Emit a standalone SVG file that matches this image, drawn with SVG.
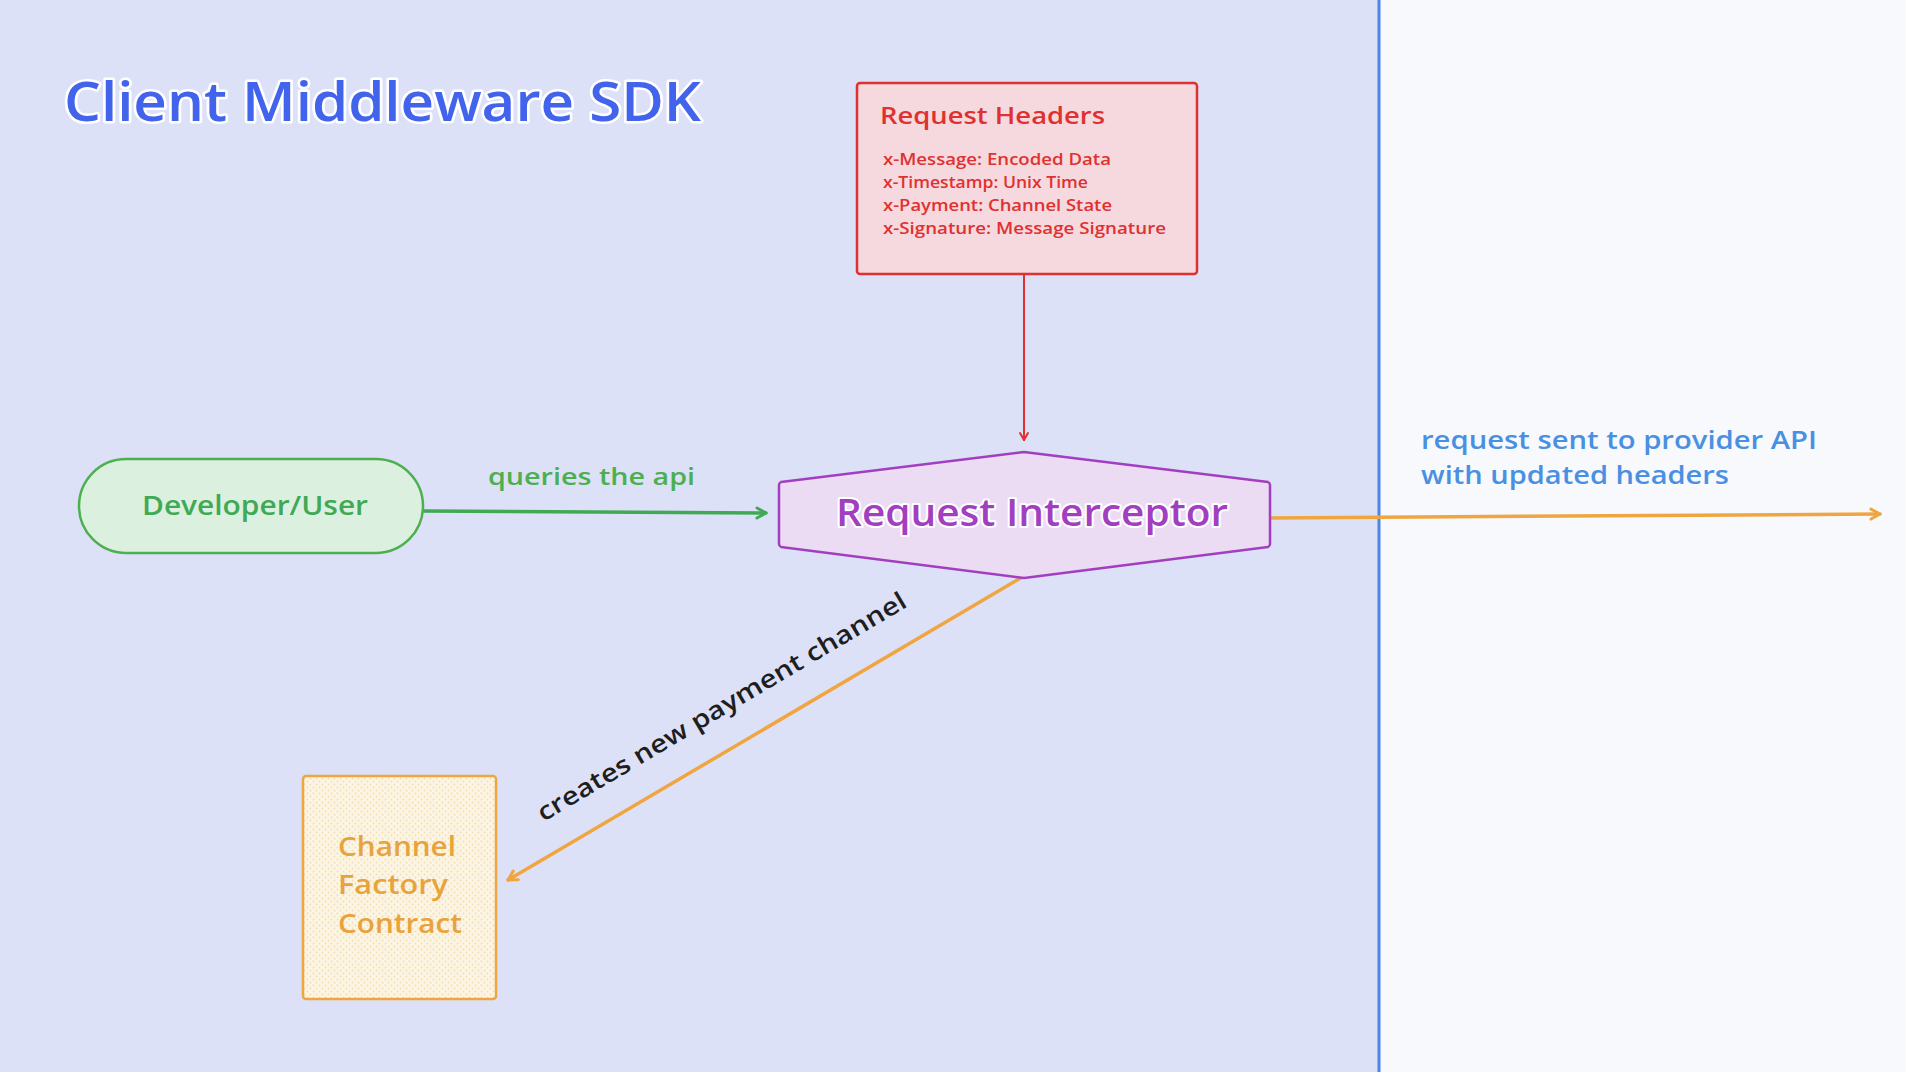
<svg xmlns="http://www.w3.org/2000/svg" width="1906" height="1072" viewBox="0 0 1906 1072">
<defs>
<style>
.hand{font-family:"Open Sans","Noto Sans","Liberation Sans",sans-serif;font-weight:600}
.halo{paint-order:stroke;stroke:#ffffff;stroke-linejoin:round}
</style>
<marker id="arrG" markerWidth="14" markerHeight="14" refX="11" refY="7" orient="auto" markerUnits="userSpaceOnUse"><path d="M2,2 L11,7 L2,12" fill="none" stroke="#40a955" stroke-width="3" stroke-linecap="round" stroke-linejoin="round"/></marker>
<marker id="arrO" markerWidth="14" markerHeight="14" refX="11" refY="7" orient="auto" markerUnits="userSpaceOnUse"><path d="M2,2 L11,7 L2,12" fill="none" stroke="#f0a640" stroke-width="3" stroke-linecap="round" stroke-linejoin="round"/></marker>
<marker id="arrR" markerWidth="12" markerHeight="12" refX="9" refY="6" orient="auto" markerUnits="userSpaceOnUse"><path d="M2,2 L9,6 L2,10" fill="none" stroke="#e03131" stroke-width="2" stroke-linecap="round" stroke-linejoin="round"/></marker>
<pattern id="dots" width="6" height="6" patternUnits="userSpaceOnUse"><rect width="6" height="6" fill="#fcf5e4"/><circle cx="1.5" cy="1.5" r="0.9" fill="#f3dcae"/><circle cx="4.5" cy="4.5" r="0.9" fill="#f3dcae"/></pattern>
</defs>
<rect x="0" y="0" width="1380" height="1072" fill="#dde1f7"/>
<rect x="1380" y="0" width="526" height="1072" fill="#f8f9fd"/>
<line x1="1379" y1="0" x2="1379" y2="1072" stroke="#4a86e8" stroke-width="3"/>

<text class="hand halo" x="64" y="121" font-size="54" font-weight="700" fill="#4263eb" stroke-width="5" textLength="637" lengthAdjust="spacingAndGlyphs">Client Middleware SDK</text>

<g id="connectors" fill="none" stroke-linecap="round">
<line x1="1024" y1="274" x2="1024" y2="440" stroke="#e03131" stroke-width="2" marker-end="url(#arrR)"/>
<line x1="423" y1="511" x2="766" y2="513" stroke="#40a955" stroke-width="3.5" marker-end="url(#arrG)"/>
<line x1="1270" y1="518" x2="1880" y2="514" stroke="#f0a640" stroke-width="3.5" marker-end="url(#arrO)"/>
<line x1="1024" y1="576" x2="508" y2="880" stroke="#f0a640" stroke-width="3.5" marker-end="url(#arrO)"/>
<text class="hand" x="488" y="485" font-size="24" fill="#4caf50" stroke="none" textLength="207" lengthAdjust="spacingAndGlyphs">queries the api</text>
<text class="hand" x="1421" y="449" font-size="25" fill="#4a90e2" stroke="none" textLength="396" lengthAdjust="spacingAndGlyphs">request sent to provider API</text>
<text class="hand" x="1421" y="484" font-size="25" fill="#4a90e2" stroke="none" textLength="308" lengthAdjust="spacingAndGlyphs">with updated headers</text>
<text class="hand" x="0" y="0" font-size="25" fill="#1e1e1e" stroke="none" text-anchor="middle" transform="translate(726,714) rotate(-30.6)" textLength="424" lengthAdjust="spacingAndGlyphs">creates new payment channel</text>
</g>

<g id="request-headers">
<rect x="857" y="83" width="340" height="191" rx="3" fill="#f5d9de" stroke="#e03131" stroke-width="2.5"/>
<text class="hand" x="880" y="124" font-size="24" fill="#e03131" textLength="225" lengthAdjust="spacingAndGlyphs">Request Headers</text>
<text class="hand" x="883" y="165" font-size="16" fill="#e03131" textLength="228" lengthAdjust="spacingAndGlyphs">x-Message: Encoded Data</text>
<text class="hand" x="883" y="188" font-size="16" fill="#e03131" textLength="205" lengthAdjust="spacingAndGlyphs">x-Timestamp: Unix Time</text>
<text class="hand" x="883" y="211" font-size="16" fill="#e03131" textLength="229" lengthAdjust="spacingAndGlyphs">x-Payment: Channel State</text>
<text class="hand" x="883" y="234" font-size="16" fill="#e03131" textLength="283" lengthAdjust="spacingAndGlyphs">x-Signature: Message Signature</text>
</g>

<g id="developer-user">
<rect x="79" y="459" width="344" height="94" rx="47" fill="#dcf0e0" stroke="#4caf50" stroke-width="2.5"/>
<text class="hand" x="255" y="515" font-size="27" fill="#40a955" text-anchor="middle" textLength="226" lengthAdjust="spacingAndGlyphs">Developer/User</text>
</g>

<g id="request-interceptor">
<path d="M781,482 L1024,452 L1268,482 Q1270,483 1270,485 L1270,544 Q1270,546 1268,547 L1024,578 L781,547 Q779,546 779,544 L779,485 Q779,483 781,482 Z" fill="#ecdcf3" stroke="#a13fc0" stroke-width="2.5" stroke-linejoin="round"/>
<text class="hand halo" x="1032" y="526" font-size="38" font-weight="700" fill="#a13fc0" stroke-width="4" text-anchor="middle" textLength="392" lengthAdjust="spacingAndGlyphs">Request Interceptor</text>
</g>

<g id="channel-factory-contract">
<rect x="303" y="776" width="193" height="223" rx="3" fill="url(#dots)" stroke="#f0a640" stroke-width="2.5"/>
<text class="hand" x="338" y="856" font-size="27" fill="#e8a33c" textLength="118" lengthAdjust="spacingAndGlyphs">Channel</text>
<text class="hand" x="338" y="894" font-size="27" fill="#e8a33c" textLength="110" lengthAdjust="spacingAndGlyphs">Factory</text>
<text class="hand" x="338" y="933" font-size="27" fill="#e8a33c" textLength="124" lengthAdjust="spacingAndGlyphs">Contract</text>
</g>
</svg>
